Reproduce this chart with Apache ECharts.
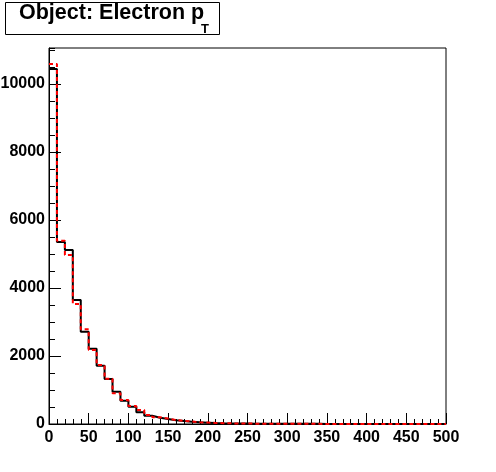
<!DOCTYPE html>
<html>
<head>
<meta charset="utf-8">
<script src="https://cdn.jsdelivr.net/npm/echarts@6/dist/echarts.min.js"></script>
<style>html,body{margin:0;padding:0;background:#fff;}#c{width:496px;height:472px;}</style>
</head>
<body>
<div id="c"></div>
<script>
var binLow = [0,10,20,30,40,50,60,70,80,90,100,110,120,130,140,150,160,170,180,190,
  200,210,220,230,240,250,260,270,280,290,300,310,320,330,340,350,360,370,380,390,
  400,410,420,430,440,450,460,470,480,490];
var binHigh = 500;
var blackCounts = [10440,5350,5120,3650,2715,2215,1715,1325,945,686,510,345,240,186,147,108,88,69,49,40,
  30,22,18,15,13,11,9,8,7,6,5,5,4,4,3,3,3,2,2,2,2,1,1,1,1,1,1,1,0,0];
var redCounts = [10590,5390,4970,3530,2785,2176,1735,1333,905,706,529,412,265,200,160,118,92,72,52,42,
  31,24,19,16,13,11,10,8,7,6,5,5,4,4,3,3,3,2,2,2,2,1,1,1,1,1,1,1,1,0];
var xTicks = [0,50,100,150,200,250,300,350,400,450,500];
var yTicks = [0,2000,4000,6000,8000,10000];
var titleMain = 'Object: Electron p';
var titleSub = 'T';

function histPoints(counts) {
  var pts = [];
  for (var i = 0; i < binLow.length; i++) pts.push([binLow[i], counts[i]]);
  pts.push([binHigh, counts[counts.length - 1]]);
  return pts;
}

var chart = echarts.init(document.getElementById('c'), null, {renderer: 'canvas'});
var font = 'Liberation Sans, Arial, Helvetica, sans-serif';
var yMax = 11060;
var option = {
  animation: false,
  grid: {left: 49, right: 50, top: 48, bottom: 48, show: true, borderColor: '#000', borderWidth: 1,
    backgroundColor: '#fff', containLabel: false, outerBoundsMode: 'none'},
  xAxis: {
    type: 'value', min: xTicks[0], max: xTicks[xTicks.length - 1], interval: 50,
    axisLine: {show: true, lineStyle: {color: '#000', width: 1}},
    axisTick: {show: true, inside: true, length: 11, lineStyle: {color: '#000', width: 1}},
    minorTick: {show: true, splitNumber: 5, length: 5, lineStyle: {color: '#000', width: 1}},
    splitLine: {show: false},
    axisLabel: {color: '#000', fontFamily: font, fontWeight: 'bold', fontSize: 16, margin: 6,
      formatter: function (v) { return xTicks.indexOf(v) >= 0 ? String(v) : ''; }}
  },
  yAxis: [{
    type: 'value', min: 0, max: yMax, interval: 2000,
    axisLine: {show: true, lineStyle: {color: '#000', width: 1}},
    axisTick: {show: true, inside: true, length: 12, lineStyle: {color: '#000', width: 1}},
    splitLine: {show: false},
    axisLabel: {color: '#000', fontFamily: font, fontWeight: 'bold', fontSize: 16, margin: 4, showMaxLabel: false,
      formatter: function (v) { return yTicks.indexOf(v) >= 0 ? String(v) : ''; }}
  }, {
    type: 'value', min: 0, max: yMax, interval: 500, position: 'left',
    axisLine: {show: false},
    axisTick: {show: true, inside: true, length: 6, lineStyle: {color: '#000', width: 1}},
    splitLine: {show: false},
    axisLabel: {show: false}
  }],
  series: [{
    type: 'line', step: 'end', showSymbol: false, yAxisIndex: 0,
    data: histPoints(blackCounts),
    lineStyle: {color: '#000', width: 2}, z: 2
  }, {
    type: 'line', step: 'end', showSymbol: false, yAxisIndex: 0,
    data: histPoints(redCounts),
    lineStyle: {color: '#ff0000', width: 2, type: [4, 3]}, z: 3
  }],
  graphic: [{
    type: 'rect', left: 5, top: 2, shape: {width: 214, height: 32},
    style: {fill: '#fff', stroke: '#000', lineWidth: 1}
  }, {
    type: 'text', x: 19, y: 13,
    style: {text: titleMain, fontFamily: font, fontWeight: 'bold', fontSize: 21.5, fill: '#000',
      align: 'left', verticalAlign: 'middle'}
  }, {
    type: 'text', x: 201, y: 29,
    style: {text: titleSub, fontFamily: font, fontWeight: 'bold', fontSize: 13, fill: '#000',
      align: 'left', verticalAlign: 'middle'}
  }]
};
chart.setOption(option);
</script>
</body>
</html>
